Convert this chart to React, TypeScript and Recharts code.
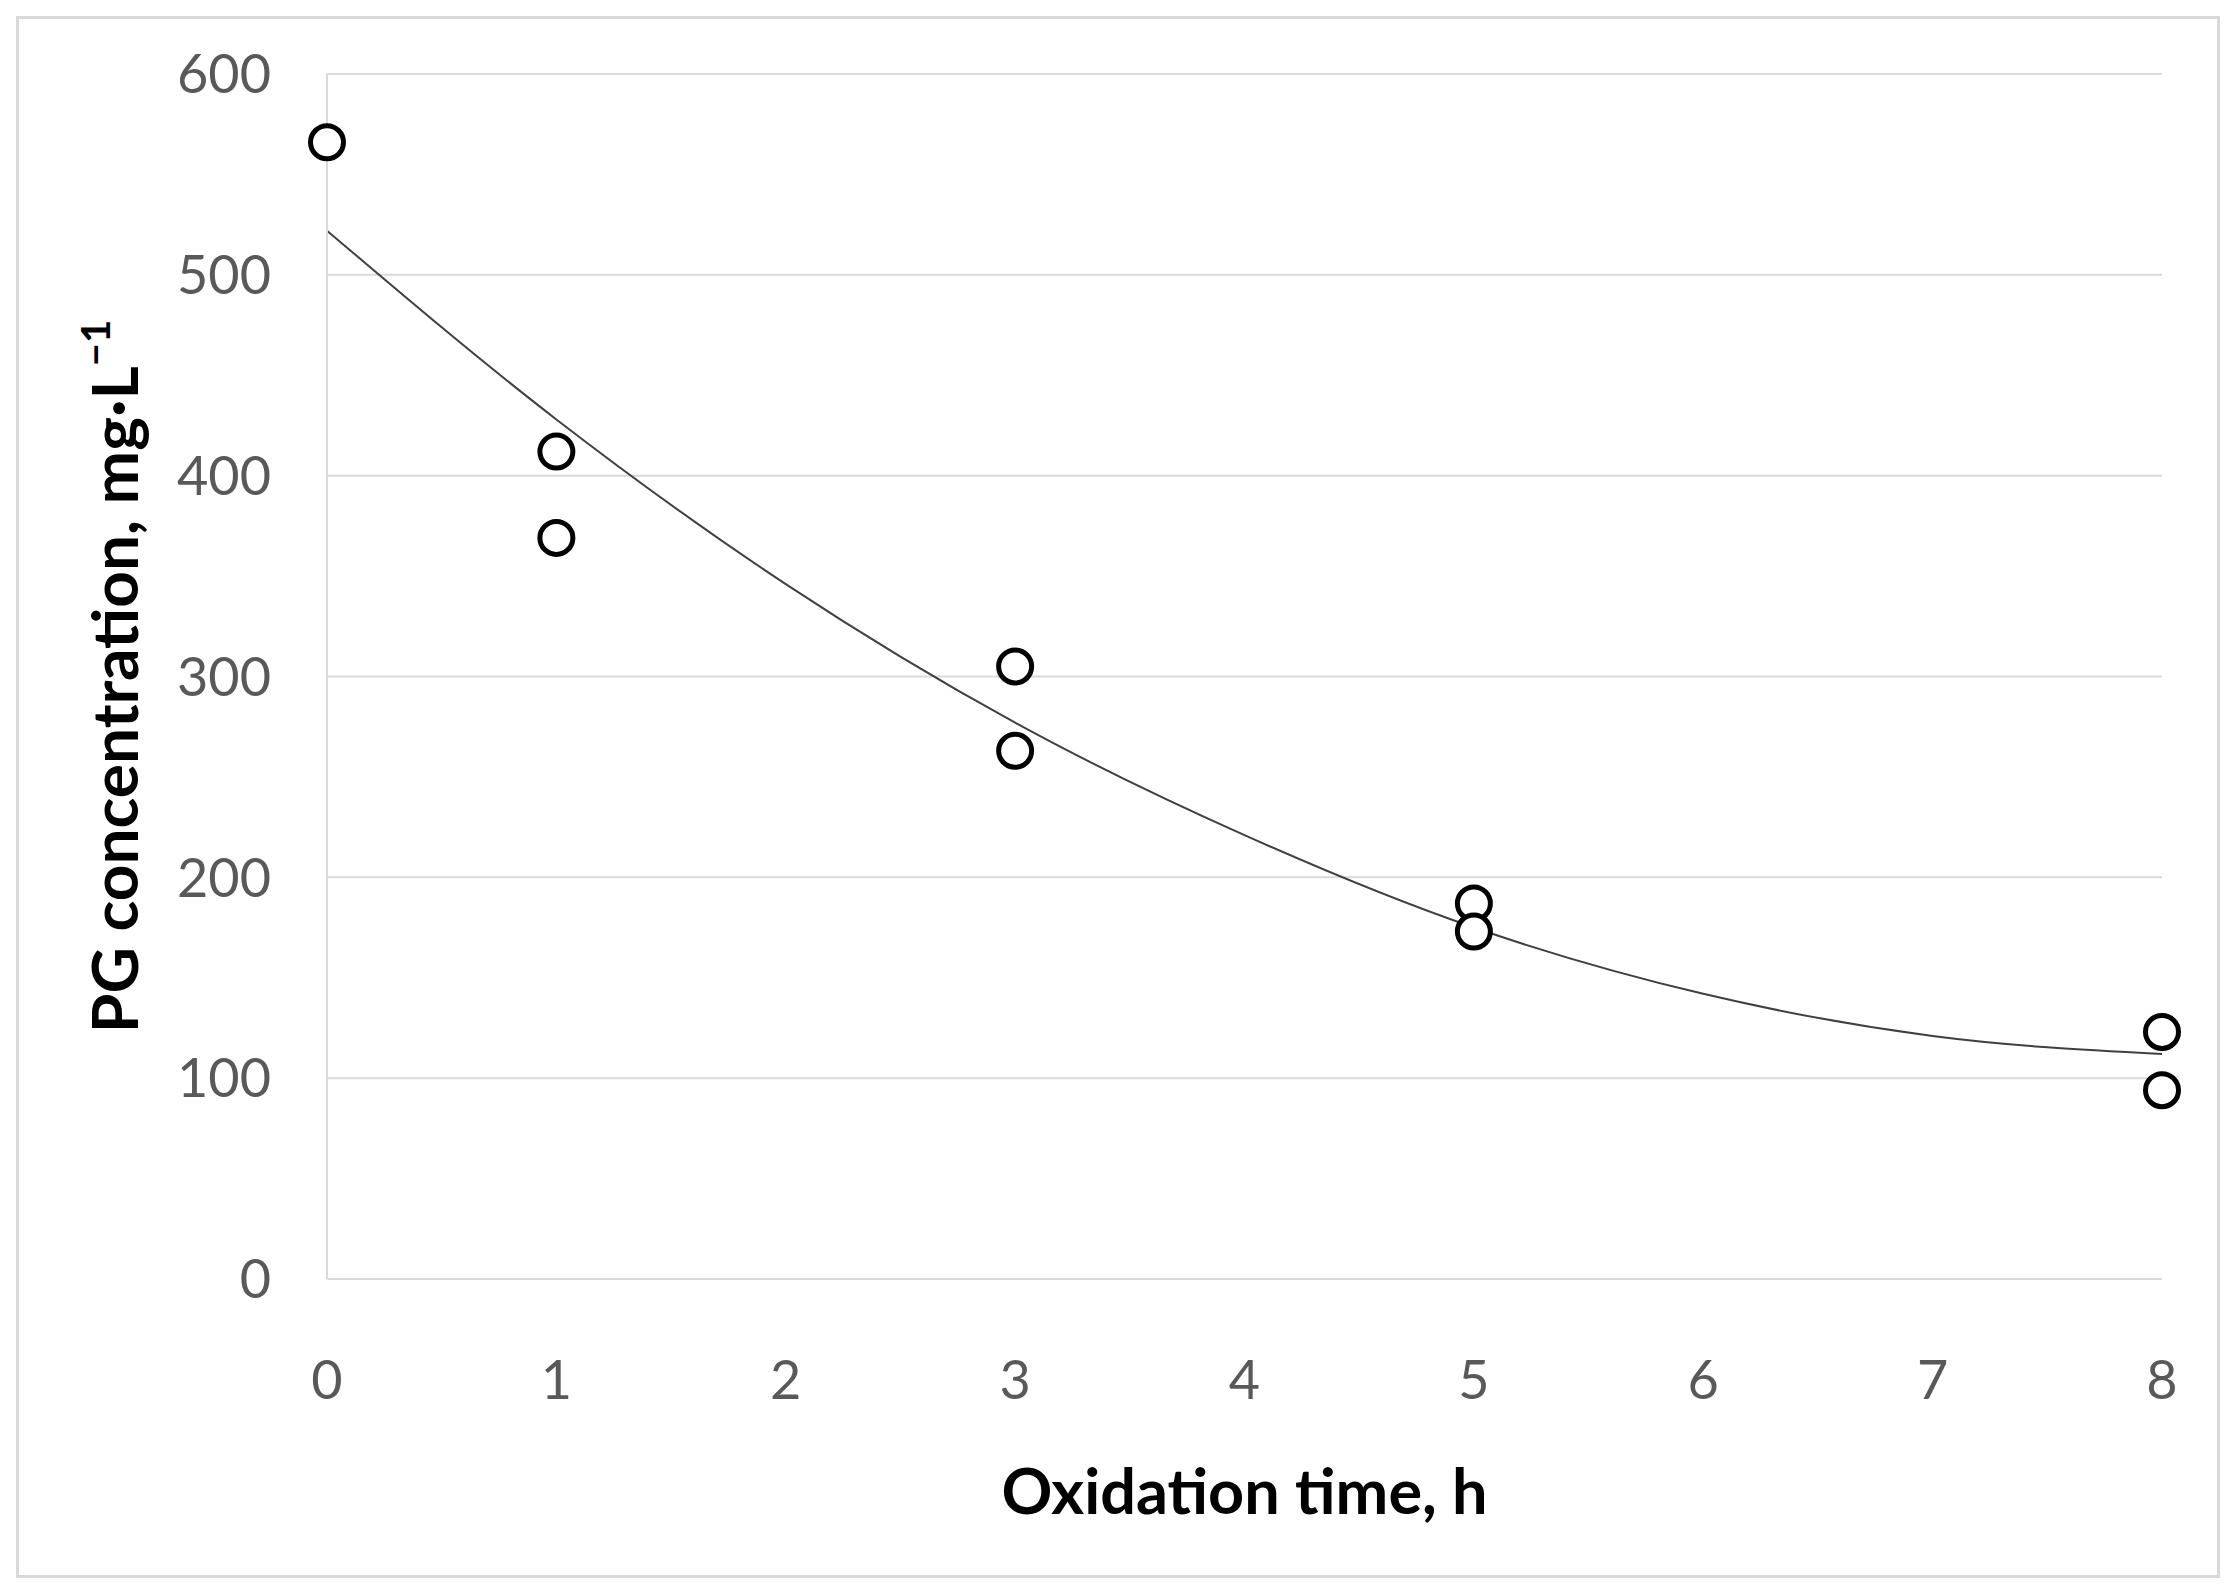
import React from 'react'
import {
  ComposedChart,
  Scatter,
  Line,
  XAxis,
  YAxis,
  CartesianGrid,
} from 'recharts'

// measured points (two replicates per sampling time, one at t=0)
const hours = [0, 1, 1, 3, 3, 5, 5, 8, 8]
const concentration = [566, 412, 369, 305, 263, 187, 173, 123, 94]

// polynomial trend line at each hour
const trendHours = [0, 1, 2, 3, 4, 5, 6, 7, 8]
const trendValues = [522, 428, 346, 277, 221, 175, 142, 121, 112]

const xTicks = [0, 1, 2, 3, 4, 5, 6, 7, 8]
const yTicks = [0, 100, 200, 300, 400, 500, 600]

const points = hours.map((x, i) => ({ x, y: concentration[i] }))
const trend = trendHours.map((x, i) => ({ x, trend: trendValues[i] }))

const FONT = 'Lato, "Open Sans", sans-serif'
const tickStyle = { fontSize: 54, fill: '#595959', fontFamily: FONT }

function XLabel(props: any) {
  const vb = props.viewBox || {}
  return (
    <text
      x={vb.x + vb.width / 2}
      y={vb.y + 210}
      textAnchor="middle"
      dominantBaseline="central"
      fontFamily={FONT}
      fontWeight="bold"
      fontSize={63}
      fill="#000"
    >
      Oxidation time, h
    </text>
  )
}

function YLabel(props: any) {
  const vb = props.viewBox || {}
  const cx = vb.x + 96
  const cy = vb.y + vb.height / 2
  return (
    <text
      x={cx}
      y={cy}
      transform={`rotate(-90 ${cx} ${cy})`}
      textAnchor="middle"
      dominantBaseline="central"
      fontFamily={FONT}
      fontWeight="bold"
      fontSize={64}
      fill="#000"
    >
      PG concentration, mg·L
      <tspan dy={-18} fontSize={40}>−1</tspan>
    </text>
  )
}

const Ring = (props: any) => (
  <circle
    cx={props.cx}
    cy={props.cy}
    r={16.5}
    fill="#fff"
    stroke="#000"
    strokeWidth={5}
  />
)

export default function App() {
  return (
    <div
      style={{
        position: 'absolute',
        left: 0,
        top: 0,
        width: 2238,
        height: 1594,
        background: '#fff',
      }}
    >
      <div
        style={{
          position: 'absolute',
          left: 16,
          top: 16,
          width: 2198,
          height: 1556,
          border: '3px solid #d9d9d9',
        }}
      />
      <ComposedChart
        width={2238}
        height={1594}
        margin={{ top: 74, right: 76, bottom: 17, left: 17 }}
        style={{ position: 'absolute', left: 0, top: 0 }}
      >
        <CartesianGrid vertical={false} stroke="#d9d9d9" strokeWidth={2} />
        <XAxis
          dataKey="x"
          type="number"
          domain={[0, 8]}
          ticks={xTicks}
          height={298}
          tickLine={false}
          tickSize={0}
          tickMargin={82}
          axisLine={{ stroke: '#d9d9d9', strokeWidth: 2 }}
          tick={tickStyle}
          label={<XLabel />}
        />
        <YAxis
          type="number"
          domain={[0, 600]}
          ticks={yTicks}
          width={310}
          tickLine={false}
          tickSize={0}
          tickMargin={56}
          axisLine={{ stroke: '#d9d9d9', strokeWidth: 2 }}
          tick={tickStyle}
          label={<YLabel />}
        />
        <Scatter
          data={points}
          dataKey="y"
          shape={Ring}
          isAnimationActive={false}
        />
        <Line
          data={trend}
          dataKey="trend"
          type="monotone"
          stroke="#404040"
          strokeWidth={2}
          dot={false}
          activeDot={false}
          isAnimationActive={false}
        />
      </ComposedChart>
    </div>
  )
}
